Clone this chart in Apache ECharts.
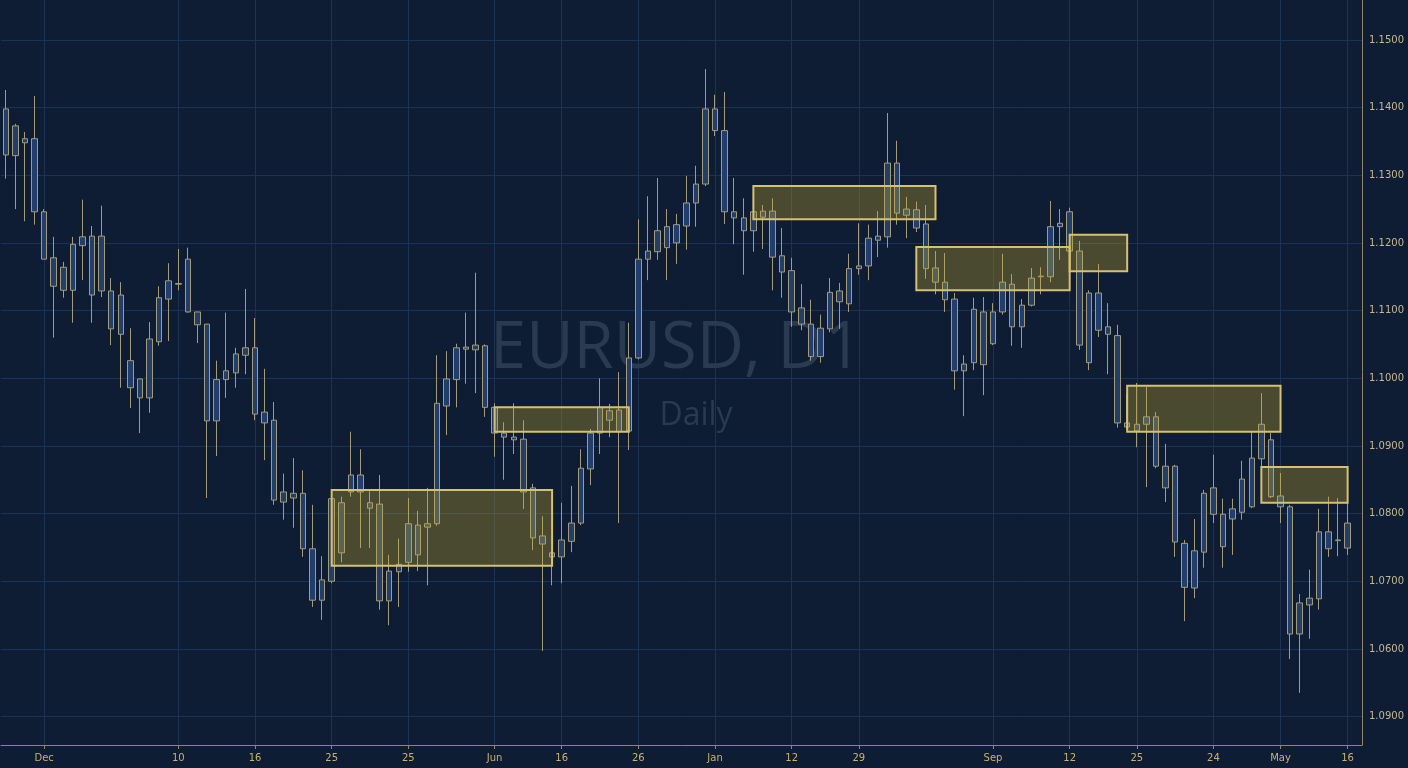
<!DOCTYPE html>
<html>
<head>
<meta charset="utf-8">
<title>EURUSD, D1</title>
<script src="https://cdn.jsdelivr.net/npm/echarts@6/dist/echarts.min.js"></script>
<style>
  html, body { margin: 0; padding: 0; background: #0e1d33; }
  #chart { width: 1408px; height: 768px; }
</style>
</head>
<body>
<div id="chart"></div>
<script>
// daily candles (one entry per bar, left to right)
const opens = [
  1.1398, 1.1329, 1.1354, 1.1354, 1.1246, 1.1178, 1.1130, 1.1130, 1.1196, 1.1210,
  1.1129, 1.1129, 1.1123, 1.1026, 1.0999, 1.0971, 1.1054, 1.1117, 1.1140, 1.1176,
  1.1098, 1.1080, 1.0937, 1.0998, 1.1008, 1.1034, 1.1045, 1.0950, 1.0938, 1.0817,
  1.0823, 1.0830, 1.0748, 1.0672, 1.0700, 1.0816, 1.0832, 1.0857, 1.0816, 1.0814,
  1.0671, 1.0714, 1.0728, 1.0783, 1.0780, 1.0785, 1.0959, 1.0998, 1.1043, 1.1042,
  1.1048, 1.0957, 1.0919, 1.0913, 1.0910, 1.0838, 1.0767, 1.0742, 1.0736, 1.0759,
  1.0786, 1.0866, 1.0919, 1.0952, 1.0921, 1.0922, 1.1030, 1.1176, 1.1187, 1.1193,
  1.1200, 1.1225, 1.1259, 1.1287, 1.1366, 1.1366, 1.1246, 1.1237, 1.1218, 1.1247,
  1.1247, 1.1181, 1.1159, 1.1104, 1.1080, 1.1032, 1.1073, 1.1113, 1.1110, 1.1162,
  1.1166, 1.1204, 1.1209, 1.1318, 1.1241, 1.1249, 1.1228, 1.1163, 1.1142, 1.1117,
  1.1011, 1.1023, 1.1098, 1.1051, 1.1098, 1.1139, 1.1076, 1.1108, 1.1150, 1.1150,
  1.1224, 1.1246, 1.1188, 1.1023, 1.1126, 1.1076, 1.1063, 1.0934, 1.0922, 1.0932,
  1.0943, 1.0870, 1.0870, 1.0756, 1.0690, 1.0743, 1.0838, 1.0799, 1.0792, 1.0802,
  1.0810, 1.0881, 1.0909, 1.0826, 1.0810, 1.0622, 1.0665, 1.0674, 1.0773, 1.0760,
  1.0749
];
const closes = [
  1.1330, 1.1373, 1.1348, 1.1246, 1.1176, 1.1136, 1.1164, 1.1198, 1.1209, 1.1123,
  1.1210, 1.1073, 1.1065, 1.0986, 1.0971, 1.1058, 1.1119, 1.1144, 1.1139, 1.1098,
  1.1079, 1.0937, 1.0998, 1.1011, 1.1036, 1.1045, 1.0947, 1.0934, 1.0820, 1.0832,
  1.0830, 1.0748, 1.0672, 1.0702, 1.0822, 1.0742, 1.0857, 1.0832, 1.0808, 1.0671,
  1.0715, 1.0725, 1.0785, 1.0739, 1.0785, 1.0963, 1.0999, 1.1045, 1.1046, 1.1049,
  1.0957, 1.0919, 1.0913, 1.0909, 1.0832, 1.0764, 1.0755, 1.0736, 1.0761, 1.0786,
  1.0867, 1.0919, 1.0957, 1.0938, 1.0953, 1.1030, 1.1176, 1.1188, 1.1218, 1.1224,
  1.1227, 1.1259, 1.1287, 1.1398, 1.1398, 1.1246, 1.1237, 1.1218, 1.1246, 1.1238,
  1.1179, 1.1157, 1.1098, 1.1080, 1.1032, 1.1074, 1.1127, 1.1129, 1.1162, 1.1166,
  1.1207, 1.1210, 1.1318, 1.1244, 1.1250, 1.1222, 1.1162, 1.1142, 1.1116, 1.1011,
  1.1021, 1.1102, 1.1020, 1.1098, 1.1142, 1.1076, 1.1108, 1.1148, 1.1151, 1.1224,
  1.1229, 1.1188, 1.1049, 1.1126, 1.1071, 1.1065, 1.0934, 1.0928, 1.0932, 1.0943,
  1.0870, 1.0838, 1.0758, 1.0691, 1.0745, 1.0830, 1.0799, 1.0751, 1.0807, 1.0851,
  1.0882, 1.0932, 1.0825, 1.0810, 1.0622, 1.0668, 1.0675, 1.0773, 1.0748, 1.0761,
  1.0786
];
const lows = [
  1.1295, 1.1250, 1.1232, 1.1227, 1.1176, 1.1060, 1.1119, 1.1082, 1.1145, 1.1082,
  1.1120, 1.1049, 1.0986, 1.0956, 1.0919, 1.0949, 1.1048, 1.1055, 1.1130, 1.1097,
  1.1052, 1.0823, 1.0885, 1.0971, 1.0986, 1.1006, 1.0938, 1.0879, 1.0813, 1.0791,
  1.0779, 1.0736, 1.0662, 1.0643, 1.0697, 1.0728, 1.0825, 1.0749, 1.0749, 1.0658,
  1.0635, 1.0662, 1.0714, 1.0715, 1.0694, 1.0782, 1.0916, 1.0957, 1.0992, 1.0978,
  1.0943, 1.0884, 1.0850, 1.0888, 1.0807, 1.0746, 1.0597, 1.0694, 1.0697, 1.0743,
  1.0783, 1.0842, 1.0888, 1.0913, 1.0786, 1.0894, 1.1028, 1.1145, 1.1175, 1.1145,
  1.1169, 1.1190, 1.1224, 1.1284, 1.1358, 1.1228, 1.1198, 1.1153, 1.1187, 1.1191,
  1.1130, 1.1119, 1.1076, 1.1071, 1.1026, 1.1023, 1.1068, 1.1073, 1.1098, 1.1153,
  1.1145, 1.1179, 1.1193, 1.1227, 1.1207, 1.1216, 1.1147, 1.1124, 1.1098, 1.0983,
  1.0944, 1.1012, 1.0975, 1.1049, 1.1094, 1.1048, 1.1045, 1.1106, 1.1124, 1.1142,
  1.1175, 1.1172, 1.1042, 1.1012, 1.1061, 1.1006, 1.0927, 1.0925, 1.0898, 1.0839,
  1.0867, 1.0817, 1.0736, 1.0641, 1.0675, 1.0720, 1.0786, 1.0720, 1.0739, 1.0791,
  1.0808, 1.0869, 1.0823, 1.0786, 1.0585, 1.0535, 1.0615, 1.0658, 1.0736, 1.0737,
  1.0739
];
const highs = [
  1.1426, 1.1376, 1.1364, 1.1417, 1.1250, 1.1209, 1.1172, 1.1209, 1.1264, 1.1225,
  1.1255, 1.1148, 1.1142, 1.1074, 1.1000, 1.1083, 1.1136, 1.1170, 1.1191, 1.1193,
  1.1098, 1.1080, 1.1026, 1.1097, 1.1045, 1.1132, 1.1089, 1.1014, 1.0965, 1.0859,
  1.0882, 1.0864, 1.0813, 1.0737, 1.0830, 1.0825, 1.0921, 1.0895, 1.0833, 1.0857,
  1.0739, 1.0763, 1.0823, 1.0804, 1.0838, 1.1034, 1.1040, 1.1051, 1.1097, 1.1156,
  1.1050, 1.0963, 1.0935, 1.0963, 1.0938, 1.0844, 1.0796, 1.0745, 1.0816, 1.0841,
  1.0895, 1.0925, 1.1000, 1.0962, 1.1009, 1.1082, 1.1235, 1.1269, 1.1296, 1.1250,
  1.1243, 1.1299, 1.1314, 1.1457, 1.1419, 1.1423, 1.1296, 1.1266, 1.1262, 1.1256,
  1.1266, 1.1222, 1.1178, 1.1139, 1.1116, 1.1094, 1.1148, 1.1141, 1.1184, 1.1229,
  1.1227, 1.1247, 1.1392, 1.1351, 1.1268, 1.1261, 1.1256, 1.1188, 1.1185, 1.1126,
  1.1034, 1.1119, 1.1120, 1.1111, 1.1184, 1.1154, 1.1117, 1.1163, 1.1164, 1.1262,
  1.1250, 1.1252, 1.1203, 1.1130, 1.1169, 1.1111, 1.1079, 1.0977, 1.0993, 1.0987,
  1.0950, 1.0903, 1.0872, 1.0761, 1.0792, 1.0835, 1.0887, 1.0822, 1.0822, 1.0878,
  1.0921, 1.0978, 1.0919, 1.0860, 1.0813, 1.0681, 1.0717, 1.0807, 1.0825, 1.0823,
  1.0838
];

// date labels under the axis: bar index -> text
const labelIndex = [4, 18, 26, 34, 42, 51, 58, 66, 74, 82, 89, 103, 111, 118, 126, 133, 140];
const labelText = ['Dec', '10', '16', '25', '25', 'Jun', '16', '26', 'Jan', '12', '29', 'Sep', '12', '25', '24', 'May', '16'];

// price scale ticks and their printed labels (as shown on the chart)
const priceTicks = [1.05, 1.06, 1.07, 1.08, 1.09, 1.10, 1.11, 1.12, 1.13, 1.14, 1.15];
const priceLabels = ['1.0900', '1.0600', '1.0700', '1.0800', '1.0900', '1.1000', '1.1100', '1.1200', '1.1300', '1.1400', '1.1500'];

// supply / demand zones: [first bar, last bar, low, high]
const zones = [
  [34, 57, 1.0723, 1.0835],
  [51, 65, 1.0921, 1.0957],
  [78, 97, 1.1235, 1.1284],
  [95, 111, 1.1130, 1.1194],
  [111, 117, 1.1158, 1.1212],
  [117, 133, 1.0921, 1.0989],
  [131, 140, 1.0816, 1.0869]
];

const categories = opens.map((_, i) => String(i)).concat(['']);
const candles = opens.map((o, i) => [o, closes[i], lows[i], highs[i]]);
candles.push('-');

const labelMap = {};
labelIndex.forEach((idx, k) => { labelMap[idx] = labelText[k]; });
const isLabeled = (i) => labelMap[i] !== undefined;

const gridColor = '#1c3252';
const axisColor = '#8e876b';

const chart = echarts.init(document.getElementById('chart'), null, { renderer: 'canvas' });

chart.setOption({
  backgroundColor: '#0e1d33',
  animation: false,
  grid: { left: 1, right: 46, top: 0, bottom: 23, outerBoundsMode: 'none' },
  xAxis: {
    type: 'category',
    data: categories,
    boundaryGap: true,
    axisLine: { show: true, lineStyle: { color: axisColor, width: 1 } },
    axisTick: { show: true, alignWithLabel: true, length: 4, interval: (i) => isLabeled(i), lineStyle: { color: axisColor } },
    axisLabel: {
      interval: (i) => isLabeled(i),
      formatter: (v, i) => labelMap[i] || '',
      color: '#c9b36c',
      fontSize: 10,
      fontFamily: 'DejaVu Sans',
      margin: 8
    },
    splitLine: {
      show: true,
      alignWithLabel: true,
      interval: (i) => isLabeled(i),
      lineStyle: { color: gridColor, width: 1 }
    }
  },
  yAxis: {
    type: 'value',
    position: 'right',
    min: 1.0458,
    max: 1.1559,
    scale: true,
    axisLine: { show: true, lineStyle: { color: axisColor, width: 1 } },
    axisTick: { show: false, customValues: priceTicks },
    axisLabel: {
      customValues: priceTicks,
      formatter: (v) => {
        const k = priceTicks.findIndex(t => Math.abs(t - v) < 1e-6);
        return k >= 0 ? priceLabels[k] : '';
      },
      color: '#c4b890',
      fontSize: 10,
      fontFamily: 'DejaVu Sans',
      margin: 7
    },
    splitLine: { show: true, customValues: priceTicks, lineStyle: { color: gridColor, width: 1 } }
  },
  graphic: [
    {
      type: 'text',
      z: 1,
      style: {
        text: 'EURUSD, D1',
        x: 676,
        y: 349,
        textAlign: 'center',
        textVerticalAlign: 'middle',
        fontFamily: 'Open Sans',
        fontSize: 65,
        fill: '#2a3a51'
      }
    },
    {
      type: 'text',
      z: 1,
      style: {
        text: 'Daily',
        x: 696,
        y: 416,
        textAlign: 'center',
        textVerticalAlign: 'middle',
        fontFamily: 'Open Sans',
        fontSize: 32,
        fill: '#2a3a51'
      }
    }
  ],
  series: [
    {
      type: 'candlestick',
      data: candles,
      barWidth: 6,
      z: 2,
      itemStyle: {
        color: '#213e6c',
        color0: '#213e6c',
        borderColor: '#a49b79',
        borderColor0: '#a49b79',
        borderWidth: 1
      }
    },
    {
      type: 'custom',
      z: 3,
      data: zones,
      encode: { x: [0, 1], y: [2, 3] },
      renderItem: (params, api) => {
        const a = api.coord([api.value(0), api.value(3)]);
        const b = api.coord([api.value(1), api.value(2)]);
        return {
          type: 'rect',
          shape: { x: a[0], y: a[1], width: b[0] - a[0], height: b[1] - a[1] },
          style: { fill: 'rgba(200,170,45,0.32)', stroke: '#d7c072', lineWidth: 2 }
        };
      }
    }
  ]
});
</script>
</body>
</html>
